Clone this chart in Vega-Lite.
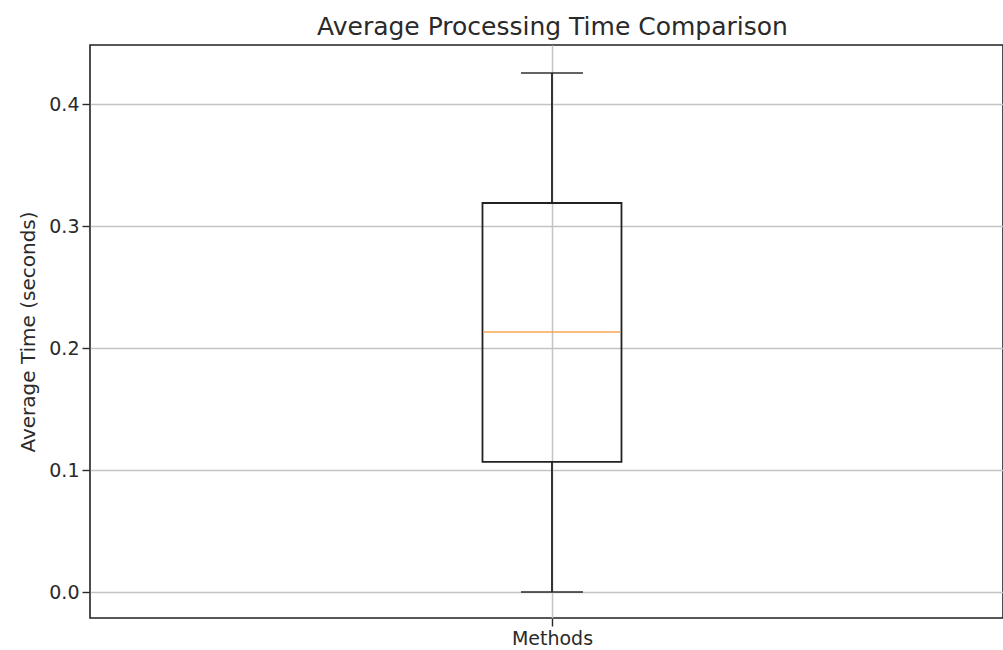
{
  "$schema": "https://vega.github.io/schema/vega-lite/v6.json",
  "width": 913,
  "height": 573,
  "autosize": {"type": "none"},
  "padding": {"left": 90, "top": 45, "right": 0, "bottom": 32},
  "background": "white",
  "config": {
    "font": "DejaVu Sans",
    "view": {"stroke": "#222222", "strokeWidth": 1.6},
    "axis": {
      "labelFont": "DejaVu Sans",
      "titleFont": "DejaVu Sans",
      "labelFontSize": 19,
      "titleFontSize": 20,
      "titleFontWeight": "normal",
      "labelColor": "#2a2a2a",
      "titleColor": "#2a2a2a",
      "tickColor": "#2a2a2a",
      "tickSize": 8,
      "tickWidth": 1.4,
      "domain": false,
      "gridColor": "#c4c4c4",
      "gridWidth": 1.5
    }
  },
  "title": {
    "text": "Average Processing Time Comparison",
    "font": "DejaVu Sans",
    "fontSize": 25,
    "fontWeight": "normal",
    "color": "#2a2a2a",
    "anchor": "middle",
    "dx": 6,
    "offset": 5
  },
  "data": {
    "values": [
      {"method": "Methods", "pos": 1, "lower": 0.0, "q1": 0.1066, "median": 0.2131, "q3": 0.3189, "upper": 0.4254}
    ]
  },
  "encoding": {
    "x": {
      "field": "pos",
      "type": "quantitative",
      "scale": {"domain": [0.5, 1.488], "nice": false, "zero": false},
      "axis": {
        "values": [1],
        "labelExpr": "'Methods'",
        "title": null,
        "grid": true,
        "labelPadding": 3
      }
    }
  },
  "layer": [
    {
      "mark": {"type": "rule", "color": "#222222", "strokeWidth": 1.8},
      "encoding": {
        "y": {
          "field": "lower",
          "type": "quantitative",
          "scale": {"domain": [-0.0213, 0.4484], "nice": false, "zero": false},
          "axis": {
            "values": [0, 0.1, 0.2, 0.3, 0.4],
            "format": ".1f",
            "title": "Average Time (seconds)",
            "grid": true,
            "labelPadding": 3,
            "titlePadding": 10
          }
        },
        "y2": {"field": "q1"}
      }
    },
    {
      "mark": {"type": "rule", "color": "#222222", "strokeWidth": 1.8},
      "encoding": {
        "y": {"field": "q3", "type": "quantitative"},
        "y2": {"field": "upper"}
      }
    },
    {
      "mark": {"type": "bar", "fill": null, "fillOpacity": 0, "stroke": "#222222", "strokeWidth": 1.8, "size": 139},
      "encoding": {
        "y": {"field": "q1", "type": "quantitative"},
        "y2": {"field": "q3"}
      }
    },
    {
      "mark": {"type": "tick", "orient": "horizontal", "color": "#f5a04a", "size": 137, "thickness": 2},
      "encoding": {
        "y": {"field": "median", "type": "quantitative"}
      }
    },
    {
      "mark": {"type": "tick", "orient": "horizontal", "color": "#222222", "size": 62, "thickness": 2},
      "encoding": {
        "y": {"field": "lower", "type": "quantitative"}
      }
    },
    {
      "mark": {"type": "tick", "orient": "horizontal", "color": "#222222", "size": 62, "thickness": 2},
      "encoding": {
        "y": {"field": "upper", "type": "quantitative"}
      }
    }
  ]
}
